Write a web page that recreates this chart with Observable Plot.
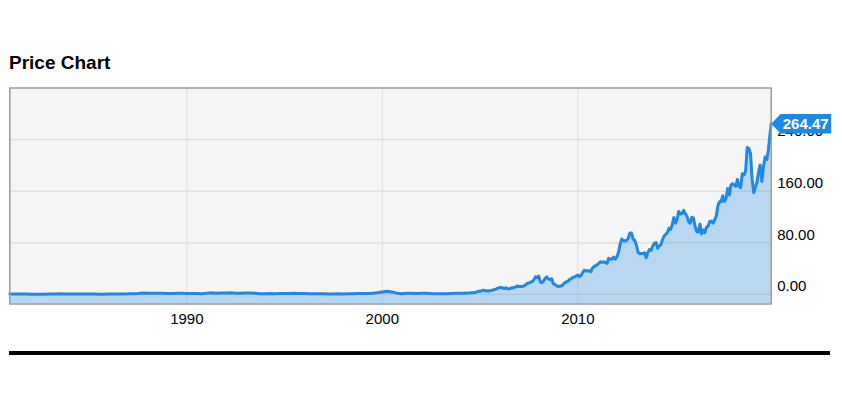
<!DOCTYPE html>
<html>
<head>
<meta charset="utf-8">
<script src="https://cdn.jsdelivr.net/npm/d3@7"></script>
<script src="https://cdn.jsdelivr.net/npm/@observablehq/plot@0.6"></script>
<style>
  html, body { margin: 0; padding: 0; background: #fff; }
  body { width: 842px; height: 400px; position: relative; overflow: hidden; font-family: "Liberation Sans", Arial, Helvetica, sans-serif; }
  #title { position: absolute; left: 9px; top: 53px; font-size: 19px; line-height: 19px; font-weight: bold; color: #000; white-space: nowrap; }
  #chart { position: absolute; left: 0; top: 0; }
  #rule { position: absolute; left: 9px; top: 351px; width: 821px; height: 4px; background: #000; }
</style>
</head>
<body>
<div id="title">Price Chart</div>
<div id="chart"></div>
<div id="rule"></div>
<script>
// ---- data ----
const dates = [
  "1980-12-12",
  "1981-03","1981-06","1981-09","1981-12",
  "1982-03","1982-06","1982-09","1982-12",
  "1983-03","1983-06","1983-09","1983-12",
  "1984-03","1984-06","1984-09","1984-12",
  "1985-03","1985-06","1985-09","1985-12",
  "1986-03","1986-06","1986-09","1986-12",
  "1987-03","1987-06","1987-09","1987-12",
  "1988-03","1988-06","1988-09","1988-12",
  "1989-03","1989-06","1989-09","1989-12",
  "1990-03","1990-06","1990-09","1990-12",
  "1991-03","1991-06","1991-09","1991-12",
  "1992-03","1992-06","1992-09","1992-12",
  "1993-03","1993-06","1993-09","1993-12",
  "1994-03","1994-06","1994-09","1994-12",
  "1995-03","1995-06","1995-09","1995-12",
  "1996-03","1996-06","1996-09","1996-12",
  "1997-03","1997-06","1997-09","1997-12",
  "1998-03","1998-06","1998-09","1998-12",
  "1999-03","1999-06","1999-09","1999-12",
  "2000-03","2000-06","2000-09","2000-12",
  "2001-03","2001-06","2001-09","2001-12",
  "2002-03","2002-06","2002-09","2002-12",
  "2003-03","2003-06","2003-09","2003-12",
  "2004-01","2004-02","2004-03","2004-04","2004-05","2004-06","2004-07","2004-08","2004-09","2004-10","2004-11","2004-12",
  "2005-01","2005-02","2005-03","2005-04","2005-05","2005-06","2005-07","2005-08","2005-09","2005-10","2005-11","2005-12",
  "2006-01","2006-02","2006-03","2006-04","2006-05","2006-06","2006-07","2006-08","2006-09","2006-10","2006-11","2006-12",
  "2007-01","2007-02","2007-03","2007-04","2007-05","2007-06","2007-07","2007-08","2007-09","2007-10","2007-11","2007-12",
  "2008-01","2008-02","2008-03","2008-04","2008-05","2008-06","2008-07","2008-08","2008-09","2008-10","2008-11","2008-12",
  "2009-01","2009-02","2009-03","2009-04","2009-05","2009-06","2009-07","2009-08","2009-09","2009-10","2009-11","2009-12",
  "2010-01","2010-02","2010-03","2010-04","2010-05","2010-06","2010-07","2010-08","2010-09","2010-10","2010-11","2010-12",
  "2011-01","2011-02","2011-03","2011-04","2011-05","2011-06","2011-07","2011-08","2011-09","2011-10","2011-11","2011-12",
  "2012-01","2012-02","2012-03","2012-04","2012-05","2012-06","2012-07","2012-08","2012-09","2012-10","2012-11","2012-12",
  "2013-01","2013-02","2013-03","2013-04","2013-05","2013-06","2013-07","2013-08","2013-09","2013-10","2013-11","2013-12",
  "2014-01","2014-02","2014-03","2014-04","2014-05","2014-06","2014-07","2014-08","2014-09","2014-10","2014-11","2014-12",
  "2015-01","2015-02","2015-03","2015-04","2015-05","2015-06","2015-07","2015-08","2015-09","2015-10","2015-11","2015-12",
  "2016-01","2016-02","2016-03","2016-04","2016-05","2016-06","2016-07","2016-08","2016-09","2016-10","2016-11","2016-12",
  "2017-01","2017-02","2017-03","2017-04","2017-05","2017-06","2017-07","2017-08","2017-09","2017-10","2017-11","2017-12",
  "2018-01","2018-02","2018-03","2018-04","2018-05","2018-06","2018-07","2018-08","2018-09","2018-10","2018-11","2018-12",
  "2019-01","2019-02","2019-03","2019-04","2019-05","2019-06","2019-07","2019-08","2019-09","2019-10","2019-11-22"
];
const prices = [
  0.51,
  0.45, 0.50, 0.35, 0.30,
  0.22, 0.20, 0.30, 0.50,
  0.65, 0.95, 0.45, 0.43,
  0.55, 0.48, 0.45, 0.50,
  0.37, 0.31, 0.30, 0.40,
  0.45, 0.60, 0.70, 0.72,
  1.05, 1.40, 2.00, 1.50,
  1.50, 1.70, 1.50, 1.45,
  1.25, 1.50, 1.60, 1.25,
  1.45, 1.35, 1.05, 1.55,
  2.30, 1.50, 1.90, 2.00,
  2.30, 1.70, 1.60, 2.10,
  1.90, 1.50, 0.90, 1.00,
  1.25, 0.95, 1.20, 1.40,
  1.25, 1.65, 1.35, 1.15,
  0.85, 0.75, 0.80, 0.75,
  0.65, 0.52, 0.78, 0.47,
  0.97, 1.03, 1.36, 1.46,
  1.28, 1.65, 2.33, 3.67,
  4.85, 3.74, 1.84, 1.06,
  1.58, 1.66, 1.11, 1.56,
  1.69, 1.27, 1.04, 1.02,
  1.01, 1.36, 1.48, 1.53,
  1.61, 1.71, 1.93, 1.84, 2.00, 2.32, 2.31, 2.45, 2.77, 3.74, 4.79, 4.60,
  5.49, 6.41, 5.95, 5.15, 5.68, 5.26, 6.09, 6.70, 7.66, 8.23, 9.69, 10.27,
  10.79, 9.78, 8.96, 10.06, 8.54, 8.18, 9.71, 9.69, 11.00, 11.58, 13.09, 12.12,
  12.25, 12.09, 13.27, 14.26, 17.31, 17.43, 18.82, 19.78, 21.92, 27.14, 26.03, 28.30,
  19.34, 17.86, 20.50, 24.85, 26.96, 23.92, 22.71, 24.22, 16.24, 15.37, 13.24, 12.19,
  12.88, 12.76, 15.02, 17.98, 19.40, 20.35, 23.34, 24.03, 26.48, 26.93, 28.56, 30.10,
  27.44, 29.23, 33.57, 37.30, 36.70, 35.93, 36.75, 34.73, 40.54, 43.00, 44.45, 46.08,
  48.47, 50.46, 49.79, 50.02, 49.69, 47.95, 55.78, 54.98, 54.47, 57.83, 54.60, 57.86,
  65.21, 77.49, 85.65, 83.43, 82.53, 83.43, 87.25, 95.03, 95.30, 85.05, 83.61, 76.02,
  65.07, 63.06, 63.24, 63.25, 64.25, 56.65, 64.65, 69.60, 68.11, 74.67, 79.44, 80.15,
  71.51, 75.18, 76.68, 84.30, 90.43, 92.93, 95.60, 102.50, 100.75, 108.00, 118.93, 110.38,
  117.16, 128.46, 124.43, 125.15, 130.28, 125.43, 121.30, 112.76, 110.30, 119.50, 118.30, 105.26,
  97.34, 96.69, 108.99, 93.74, 99.86, 95.60, 104.21, 106.10, 113.05, 113.54, 110.52, 115.82,
  121.35, 136.99, 143.66, 143.65, 152.76, 144.02, 148.73, 164.00, 154.12, 169.04, 171.85, 169.23,
  167.43, 178.12, 167.78, 165.26, 186.87, 185.11, 190.29, 227.63, 225.74, 218.86, 178.58, 157.74,
  166.44, 173.15, 189.95, 200.67, 175.07, 197.92, 213.04, 208.74, 223.97, 248.76, 264.47
];
const xTickYears = [1990, 2000, 2010];
const yTicks = [0, 80, 160, 240];
const xDomain = ["1980-12-12", "2019-11-22"];
const yDomain = [-15, 320];

// ---- build table ----
function parseDate(s) {
  if (s.length === 7) { // monthly close -> end of month
    const d = new Date(s + "-01T00:00:00Z");
    return d3.utcDay.offset(d3.utcMonth.offset(d, 1), -1);
  }
  return new Date(s + "T00:00:00Z");
}
const data = dates.map((s, i) => ({date: parseDate(s), price: prices[i]}));
const last = data[data.length - 1];
const xTicks = xTickYears.map(y => new Date(Date.UTC(y, 0, 1)));

const LINE = "#1e88e5";
const FONT = '"Liberation Sans", Arial, Helvetica, sans-serif';

// badge: left-pointing arrow + box, tip at the data point
const badge = {
  draw(ctx) {
    ctx.moveTo(0, 0);
    ctx.lineTo(9.3, -9.7);
    ctx.lineTo(60, -9.7);
    ctx.lineTo(60, 9.6);
    ctx.lineTo(9.3, 9.6);
    ctx.closePath();
  }
};

const chart = Plot.plot({
  width: 842,
  height: 400,
  marginTop: 87.5,
  marginBottom: 96.5,
  marginLeft: 9.3,
  marginRight: 71.3,
  style: {fontFamily: FONT, fontSize: "15px", color: "#000", background: "transparent", overflow: "visible"},
  x: {type: "utc", domain: xDomain.map(s => new Date(s + "T00:00:00Z"))},
  y: {domain: yDomain},
  marks: [
    Plot.frame({fill: "#f5f5f5", stroke: null}),
    Plot.gridX(xTicks, {stroke: "#dedede", strokeOpacity: 1, strokeWidth: 1}),
    Plot.gridY(yTicks, {stroke: "#e0e0e0", strokeOpacity: 1, strokeWidth: 1.5}),
    Plot.areaY(data, {x: "date", y1: yDomain[0], y2: "price", fill: LINE, fillOpacity: 0.28}),
    Plot.lineY(data, {x: "date", y: "price", stroke: LINE, strokeWidth: 3, strokeLinejoin: "round"}),
    Plot.frame({stroke: "#9a9a9a", strokeWidth: 1.5}),
    Plot.axisY(yTicks, {anchor: "right", tickSize: 0, tickPadding: 6, dy: -8, textAnchor: "start",
      tickFormat: d3.format(".2f"), fontSize: 15, fill: "#000", label: null}),
    Plot.axisX(xTicks, {anchor: "bottom", tickSize: 0, tickPadding: 9,
      tickFormat: d3.utcFormat("%Y"), fontSize: 15, fill: "#000", label: null}),
    Plot.dot([last], {x: "date", y: "price", symbol: badge, fill: LINE, stroke: null}),
    Plot.text([last], {x: "date", y: "price", text: d => d3.format(".2f")(d.price), dx: 34.5,
      fill: "#fff", fontWeight: "bold", fontSize: 15, textAnchor: "middle"})
  ]
});
document.getElementById("chart").appendChild(chart);
</script>
</body>
</html>
